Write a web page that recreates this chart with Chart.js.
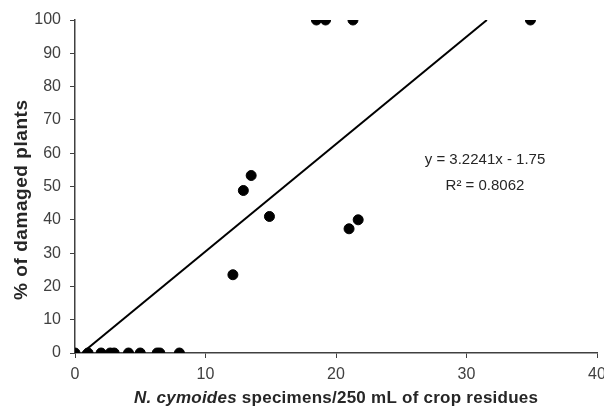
<!DOCTYPE html>
<html>
<head>
<meta charset="utf-8">
<script src="https://cdn.jsdelivr.net/npm/chart.js@4"></script>
<style>
  html, body { margin: 0; padding: 0; background: #fff; }
  #wrap { width: 604px; height: 409px; }
</style>
</head>
<body>
<div id="wrap"><canvas id="scatter"></canvas></div>
<script>
// data
const specimens = [0, 1.0, 2.0, 2.7, 3.0, 4.1, 5.0, 6.3, 6.5, 8.0, 12.1, 12.9, 13.5, 14.9, 18.5, 19.2, 21.0, 21.3, 21.7, 34.9];
const damaged   = [0, 0, 0, 0, 0, 0, 0, 0, 0, 0, 23.5, 48.8, 53.3, 41.0, 100, 100, 37.3, 100, 40.0, 100];

// trendline ends (y = 3.2241x - 1.75, clipped to 0..100)
const trendX = [0.54, 31.56];
const trendY = [0, 100];

const xTicks = [0, 10, 20, 30, 40];
const yTicks = [0, 10, 20, 30, 40, 50, 60, 70, 80, 90, 100];

const equation = "y = 3.2241x - 1.75";
const rSquared = "R² = 0.8062";

const axisColor = "#404040";
const font = "'Liberation Sans', Arial, sans-serif";

// draw text so that it spans a given width
function spreadText(ctx, parts, cx, cy, width) {
  let total = 0;
  let count = 0;
  parts.forEach(p => { ctx.font = p.font; total += ctx.measureText(p.text).width; count += p.text.length; });
  const gap = (width - total) / (count - 1);
  let x = cx - width / 2;
  parts.forEach(p => {
    ctx.font = p.font;
    for (const ch of p.text) {
      ctx.fillText(ch, x, cy);
      x += ctx.measureText(ch).width + gap;
    }
  });
}

// draws the axis titles (x one is part italic) and the equation text
const extras = {
  id: "extras",
  afterDraw(chart) {
    const ctx = chart.ctx;
    const area = chart.chartArea;
    ctx.save();
    ctx.fillStyle = "#262626";
    ctx.textBaseline = "middle";
    ctx.textAlign = "left";

    // x axis title
    spreadText(ctx, [
      { text: "N. cymoides", font: "italic bold 17px " + font },
      { text: " specimens/250 mL of crop residues", font: "bold 17px " + font }
    ], (area.left + area.right) / 2, 398, 404);

    // y axis title
    ctx.save();
    ctx.translate(22, 200);
    ctx.rotate(-Math.PI / 2);
    spreadText(ctx, [{ text: "% of damaged plants", font: "bold 19px " + font }], 0, 0, 200);
    ctx.restore();

    // regression text
    ctx.font = "15px " + font;
    ctx.textAlign = "center";
    ctx.fillText(equation, 485, 160);
    ctx.fillText(rSquared, 485, 186);
    ctx.restore();
  }
};

function main() {
  const context = document.querySelector("#scatter").getContext("2d");
  new Chart(context, {
    type: "scatter",
    data: {
      datasets: [
        {
          label: "points",
          data: specimens.map((v, i) => ({ x: v, y: damaged[i] })),
          backgroundColor: "#000",
          borderColor: "#000",
          pointRadius: 5,
          pointHoverRadius: 5,
          order: 1
        },
        {
          label: "trend",
          type: "line",
          data: trendX.map((v, i) => ({ x: v, y: trendY[i] })),
          borderColor: "#000",
          borderWidth: 2,
          pointRadius: 0,
          fill: false,
          order: 2
        }
      ]
    },
    options: {
      responsive: true,
      maintainAspectRatio: false,
      animation: false,
      layout: { padding: { top: 20, right: 0, left: 0, bottom: 0 } },
      plugins: {
        legend: { display: false },
        tooltip: { enabled: false }
      },
      scales: {
        x: {
          type: "linear",
          min: 0,
          max: 40,
          afterBuildTicks: s => { s.ticks = xTicks.map(v => ({ value: v })); },
          afterFit: s => { s.height = 56; s.paddingRight = 7; s.paddingLeft = 0; },
          border: { color: axisColor, width: 1.5 },
          grid: { display: true, drawOnChartArea: false, drawTicks: true, tickLength: 5, color: axisColor },
          ticks: { color: "#404040", font: { family: font, size: 16 }, padding: 7 }
        },
        y: {
          min: 0,
          max: 100,
          afterBuildTicks: s => { s.ticks = yTicks.map(v => ({ value: v })); },
          afterFit: s => { s.width = 75; },
          border: { color: axisColor, width: 1.5 },
          grid: { display: true, drawOnChartArea: false, drawTicks: true, tickLength: 5, color: axisColor },
          ticks: { color: "#404040", font: { family: font, size: 16 }, padding: 9 }
        }
      }
    },
    plugins: [extras]
  });
}

main();
</script>
</body>
</html>
